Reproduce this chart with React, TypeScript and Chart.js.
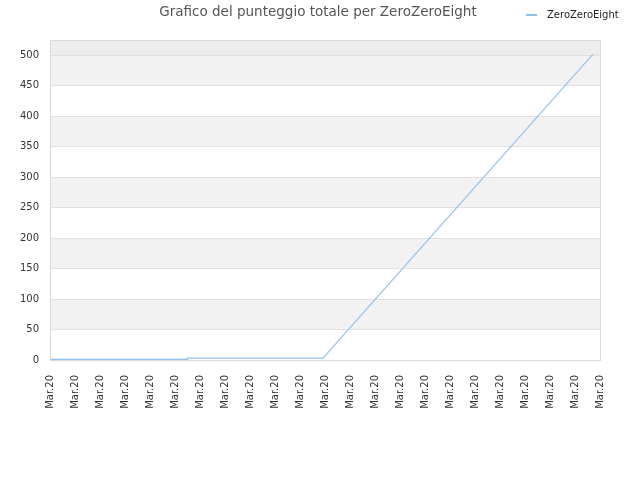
import React, { useEffect, useRef } from "react";
import { Chart, registerables } from "chart.js";

Chart.register(...registerables);

const chartTitle = "Grafico del punteggio totale per ZeroZeroEight";
const seriesName = "ZeroZeroEight";
const xTickLabels = [
  "Mar.20", "Mar.20", "Mar.20", "Mar.20", "Mar.20", "Mar.20", "Mar.20", "Mar.20",
  "Mar.20", "Mar.20", "Mar.20", "Mar.20", "Mar.20", "Mar.20", "Mar.20", "Mar.20",
  "Mar.20", "Mar.20", "Mar.20", "Mar.20", "Mar.20", "Mar.20", "Mar.20",
];
// positions along the x axis in tick units, and total score values
const pointX = [0, 5.5, 5.5, 10.92, 21.72];
const pointY = [1, 1, 3, 3, 502];
const yMax = 525;
const yStep = 50;
const shadedBands = [
  [50, 100],
  [150, 200],
  [250, 300],
  [350, 400],
  [450, 500],
];
const topBand = [500, 525];

const LINE_COLOR = "#8fc1ef";
const FONT = "'DejaVu Sans', sans-serif";

const decorPlugin = {
  id: "decor",
  beforeDraw(chart: any) {
    const { ctx, chartArea, scales } = chart;
    const { left, right } = chartArea;
    const y = scales.y;
    ctx.save();
    ctx.fillStyle = "#f2f2f2";
    for (const [lo, hi] of shadedBands) {
      const p0 = y.getPixelForValue(lo);
      const p1 = y.getPixelForValue(hi);
      ctx.fillRect(left, p1, right - left, p0 - p1);
    }
    ctx.fillStyle = "#ededed";
    {
      const p0 = y.getPixelForValue(topBand[0]);
      const p1 = y.getPixelForValue(topBand[1]);
      ctx.fillRect(left, p1, right - left, p0 - p1);
    }
    ctx.restore();
  },
  afterDraw(chart: any) {
    const { ctx, chartArea } = chart;
    const { left, right, top, bottom } = chartArea;
    ctx.save();
    ctx.strokeStyle = "#d9d9d9";
    ctx.lineWidth = 1;
    ctx.strokeRect(Math.round(left) + 0.5, Math.round(top) + 0.5, Math.round(right - left), Math.round(bottom - top));
    // title
    ctx.fillStyle = "#555";
    ctx.font = `13.5px ${FONT}`;
    ctx.textBaseline = "middle";
    ctx.textAlign = "center";
    ctx.fillText(chartTitle, 318, 12);
    // legend
    ctx.strokeStyle = LINE_COLOR;
    ctx.lineWidth = 2;
    ctx.beginPath();
    ctx.moveTo(526, 15);
    ctx.lineTo(537, 15);
    ctx.stroke();
    ctx.fillStyle = "#222";
    ctx.font = `10px ${FONT}`;
    ctx.textBaseline = "middle";
    ctx.textAlign = "left";
    ctx.fillText(seriesName, 547, 15);
    ctx.restore();
  },
};

export default function App() {
  const ref = useRef<HTMLCanvasElement>(null);
  useEffect(() => {
    if (!ref.current) return;
    const chart = new Chart(ref.current, {
      type: "line",
      data: {
        datasets: [
          {
            label: seriesName,
            data: pointX.map((x, i) => ({ x, y: pointY[i] })),
            borderColor: LINE_COLOR,
            backgroundColor: LINE_COLOR,
            borderWidth: 1.1,
            pointRadius: 0,
            tension: 0,
            fill: false,
          },
        ],
      },
      options: {
        animation: false,
        responsive: true,
        maintainAspectRatio: false,
        layout: { padding: { left: 0, right: 40, top: 40, bottom: 0 } },
        plugins: {
          legend: { display: false },
          tooltip: { enabled: false },
          title: { display: false },
        },
        scales: {
          x: {
            type: "linear",
            min: 0,
            max: xTickLabels.length - 1,
            grid: { display: false, drawTicks: false },
            border: { display: false },
            ticks: {
              stepSize: 1,
              autoSkip: false,
              maxRotation: 90,
              minRotation: 90,
              padding: 15,
              color: "#333",
              font: { family: FONT, size: 10 },
              callback: (v: any) => xTickLabels[Math.round(Number(v))] ?? "",
            },
            afterFit: (s: any) => {
              s.height = 120;
            },
          },
          y: {
            min: 0,
            max: yMax,
            grid: { color: "#e0e0e0", drawTicks: false },
            border: { display: false },
            ticks: {
              stepSize: yStep,
              padding: 11,
              color: "#333",
              font: { family: FONT, size: 10 },
            },
            afterBuildTicks: (s: any) => {
              s.ticks = s.ticks.filter((t: any) => t.value % yStep === 0);
            },
            afterFit: (s: any) => {
              s.width = 50;
            },
          },
        },
      },
      plugins: [decorPlugin],
    });
    return () => chart.destroy();
  }, []);
  return (
    <div style={{ position: "fixed", left: 0, top: 0, width: 640, height: 480, background: "#fff" }}>
      <canvas ref={ref} />
    </div>
  );
}
